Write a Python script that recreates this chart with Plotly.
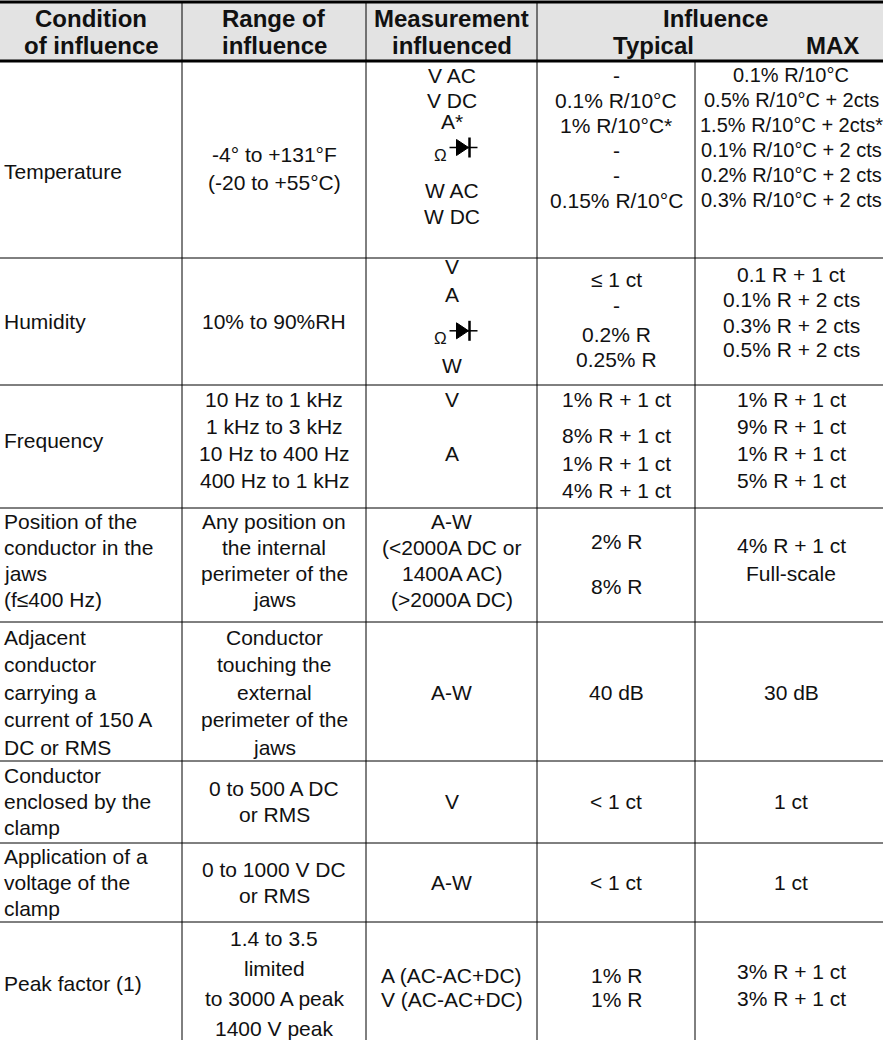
import plotly.graph_objects as go

W, H = 883, 1040

# ---------------------------------------------------------------------------
# Table content
# ---------------------------------------------------------------------------

OHM_DIODE = "Ω diode"  # drawn as an omega plus a diode symbol

header_top = ["Condition", "Range of", "Measurement"]
header_bottom = ["of influence", "influence", "influenced"]
influence_title = "Influence"
influence_cols = ["Typical", "MAX"]

conditions = [
    ["Temperature"],
    ["Humidity"],
    ["Frequency"],
    ["Position of the", "conductor in the", "jaws", "(f≤400 Hz)"],
    ["Adjacent", "conductor", "carrying a", "current of 150 A", "DC or RMS"],
    ["Conductor", "enclosed by the", "clamp"],
    ["Application of a", "voltage of the", "clamp"],
    ["Peak factor (1)"],
]
ranges = [
    ["-4° to +131°F", "(-20 to +55°C)"],
    ["10% to 90%RH"],
    ["10 Hz to 1 kHz", "1 kHz to 3 kHz", "10 Hz to 400 Hz", "400 Hz to 1 kHz"],
    ["Any position on", "the internal", "perimeter of the", "jaws"],
    ["Conductor", "touching the", "external", "perimeter of the", "jaws"],
    ["0 to 500 A DC", "or RMS"],
    ["0 to 1000 V DC", "or RMS"],
    ["1.4 to 3.5", "limited", "to 3000 A peak", "1400 V peak"],
]
measurements = [
    ["V AC", "V DC", "A*", OHM_DIODE, "W AC", "W DC"],
    ["V", "A", OHM_DIODE, "W"],
    ["V", "A"],
    ["A-W", "(<2000A DC or", "1400A AC)", "(>2000A DC)"],
    ["A-W"],
    ["V"],
    ["A-W"],
    ["A (AC-AC+DC)", "V (AC-AC+DC)"],
]
typical = [
    ["-", "0.1% R/10°C", "1% R/10°C*", "-", "-", "0.15% R/10°C"],
    ["≤ 1 ct", "-", "0.2% R", "0.25% R"],
    ["1% R + 1 ct", "8% R + 1 ct", "1% R + 1 ct", "4% R + 1 ct"],
    ["2% R", "8% R"],
    ["40 dB"],
    ["< 1 ct"],
    ["< 1 ct"],
    ["1% R", "1% R"],
]
maximum = [
    ["0.1% R/10°C", "0.5% R/10°C + 2cts", "1.5% R/10°C + 2cts*",
     "0.1% R/10°C + 2 cts", "0.2% R/10°C + 2 cts", "0.3% R/10°C + 2 cts"],
    ["0.1 R + 1 ct", "0.1% R + 2 cts", "0.3% R + 2 cts", "0.5% R + 2 cts"],
    ["1% R + 1 ct", "9% R + 1 ct", "1% R + 1 ct", "5% R + 1 ct"],
    ["4% R + 1 ct", "Full-scale"],
    ["30 dB"],
    ["1 ct"],
    ["1 ct"],
    ["3% R + 1 ct", "3% R + 1 ct"],
]

# ---------------------------------------------------------------------------
# Layout of the grid
# ---------------------------------------------------------------------------

COL_EDGES = [0, 182, 366, 537, 695, W]
HEADER_TOP, HEADER_BOTTOM = 2, 61
ROW_EDGES = [61, 258, 385, 508, 622, 761, 843, 922, 1060]
ROW_FIRST = [14, 8, 14, 13, 15, 14, 13, 16]        # offset of first text line
ROW_PITCH = [25, 27, 27, 26, 27.5, 26, 26, 30]     # line pitch per row

# line slots where a cell does not simply sit centred in its row
SLOTS = {
    (0, 0): [3.84], (0, 1): [3.16, 4.28], (0, 2): [0, 1, 1.85, 2.9, 4.6, 5.64],
    (1, 0): [2.05], (1, 1): [2.05], (1, 2): [0, 1.07, 2.4, 3.7],
    (1, 3): [0.5, 1.45, 2.55, 3.45], (1, 4): [0.3, 1.25, 2.2, 3.1],
    (2, 0): [1.55], (2, 2): [0, 2], (2, 3): [0, 1.35, 2.4, 3.4],
    (3, 3): [0.8, 2.5], (3, 4): [0.95, 2.0],
    (7, 2): [1.25, 2.05], (7, 3): [1.25, 2.05], (7, 4): [1.1, 2.0],
}
COL_CENTRES = [None, 274, 451.5, 616, 791]

FONT = "Liberation Sans, Arial, Helvetica, sans-serif"
INK = "#111111"
BODY_SIZE = 21
TIGHT_SIZE = 20          # the long temperature limits in the MAX column
HEADER_SIZE = 24

columns = [conditions, ranges, measurements, typical, maximum]

fig = go.Figure()
annotations = []
shapes = []


def text(x, y, s, size=BODY_SIZE, anchor="center", bold=False):
    annotations.append(dict(
        x=x, y=y, xref="x", yref="y", text=f"<b>{s}</b>" if bold else s,
        showarrow=False, xanchor=anchor, yanchor="middle", borderpad=0,
        font=dict(family=FONT, size=size, color=INK),
    ))


def line(x0, y0, x1, y1, width=1):
    shapes.append(dict(type="line", xref="x", yref="y", x0=x0, y0=y0, x1=x1, y1=y1,
                       line=dict(color="black", width=width)))


def ohm_diode(cx, cy):
    text(cx - 23, cy + 8, "Ω", size=17)
    shapes.append(dict(type="line", xref="x", yref="y", x0=cx - 14, y0=cy, x1=cx + 14, y1=cy,
                       line=dict(color="black", width=1.5)))
    shapes.append(dict(type="path", xref="x", yref="y",
                       path=f"M {cx - 7},{cy - 8} L {cx + 5},{cy} L {cx - 7},{cy + 8} Z",
                       fillcolor="black", line=dict(color="black", width=1)))
    shapes.append(dict(type="line", xref="x", yref="y", x0=cx + 6, y0=cy - 10, x1=cx + 6, y1=cy + 10,
                       line=dict(color="black", width=2.5)))


# header band
shapes.append(dict(type="rect", xref="x", yref="y", x0=0, x1=W, y0=HEADER_TOP, y1=HEADER_BOTTOM,
                   fillcolor="#e3e3e3", line=dict(width=0), layer="below"))
for i in range(3):
    cx = (COL_EDGES[i] + COL_EDGES[i + 1]) / 2
    text(cx, 18, header_top[i], size=HEADER_SIZE, bold=True)
    text(cx, 45, header_bottom[i], size=HEADER_SIZE, bold=True)
text((COL_EDGES[3] + COL_EDGES[5]) / 2 + 5, 18, influence_title, size=HEADER_SIZE, bold=True)
text(653, 45, influence_cols[0], size=HEADER_SIZE, bold=True)
text(832, 45, influence_cols[1], size=HEADER_SIZE, bold=True)

# body cells
for r in range(len(conditions)):
    nmax = max(len(col[r]) for col in columns)
    top = ROW_EDGES[r]
    for c, col in enumerate(columns):
        lines = col[r]
        slots = SLOTS.get((r, c), [(nmax - len(lines)) / 2 + i for i in range(len(lines))])
        for s, slot in zip(lines, slots):
            y = top + ROW_FIRST[r] + slot * ROW_PITCH[r]
            if c == 0:
                text(3, y, s, anchor="left")
            elif s == OHM_DIODE:
                ohm_diode(COL_CENTRES[2] + 12, y)
            else:
                size = TIGHT_SIZE if (r == 0 and c == 4) else BODY_SIZE
                text(COL_CENTRES[c], y, s, size=size)

# grid
line(0, HEADER_TOP, W, HEADER_TOP, width=3)
line(0, HEADER_BOTTOM, W, HEADER_BOTTOM, width=3)
for y in ROW_EDGES[1:-1]:
    line(0, y, W, y)
for x in COL_EDGES[1:4]:
    line(x, HEADER_TOP, x, H)
line(COL_EDGES[4], HEADER_BOTTOM, COL_EDGES[4], H)

fig.update_layout(
    width=W,
    height=H,
    margin=dict(l=0, r=0, t=0, b=0),
    paper_bgcolor="white",
    plot_bgcolor="white",
    xaxis=dict(range=[0, W], visible=False, fixedrange=True),
    yaxis=dict(range=[H, 0], visible=False, fixedrange=True),
    annotations=annotations,
    shapes=shapes,
    showlegend=False,
)

fig.write_html(
    "out.html",
    config={"displayModeBar": False},
    post_script="document.body.style.margin='0px';document.body.style.overflow='hidden';",
)
